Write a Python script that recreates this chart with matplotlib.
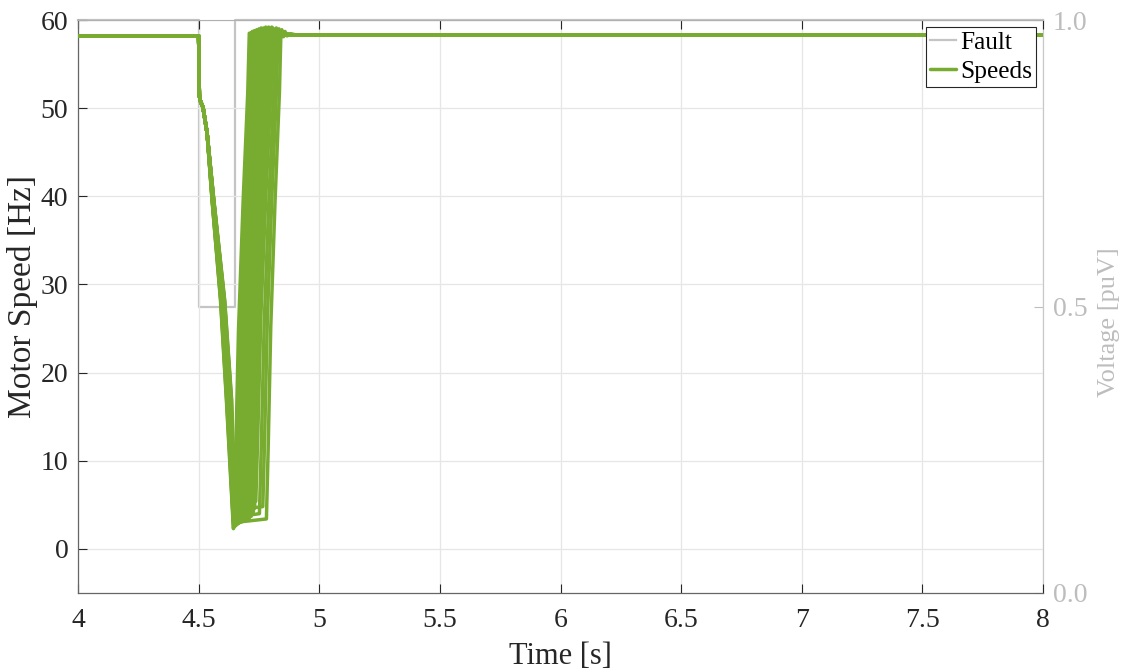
import numpy as np
import matplotlib
matplotlib.use("Agg")
import matplotlib.pyplot as plt

plt.rcParams['font.family'] = ['Liberation Serif', 'DejaVu Serif']

# ---------------- data ----------------
# Fault voltage profile [puV]
fault_t = [4.0, 4.5, 4.5, 4.65, 4.65, 8.0]
fault_v = [1.0, 1.0, 0.5, 0.5, 1.0, 1.0]

# Common speed trajectory before/into the fault [s], [Hz]
pre_t = [4.0, 4.500, 4.503, 4.506, 4.518, 4.535]
pre_v = [58.2, 58.2, 51.5, 50.9, 50.1, 47.2]

# Lower part of the deceleration (times shifted per motor)
desc_t = [4.560, 4.601, 4.628, 4.648]
desc_v = [39.6, 28.2, 16.9]          # last point is the per-motor minimum
desc_w = [0.35, 0.8, 1.0, 0.3]       # how much of the per-motor shift applies

# Per-motor values
desc_shift = [-0.013, -0.010, -0.007, -0.004, -0.001, 0.002, 0.005, 0.008,
              -0.012, -0.006, 0.000, 0.004, 0.007, -0.009, -0.003, 0.001,
              0.006, -0.011, -0.005, 0.003, 0.009, -0.008, -0.002, 0.004,
              -0.001, 0.006]
v_low = [2.3, 2.4, 2.5, 2.6, 2.5, 2.7, 2.6, 2.8, 2.7, 2.9, 3.0, 2.8, 3.1,
         3.0, 3.2, 3.4, 3.1, 3.5, 3.3, 3.6, 3.8, 4.2, 5.0, 3.6, 4.4, 3.0]
t_rise = [4.646, 4.650, 4.654, 4.658, 4.662, 4.666, 4.670, 4.674, 4.678,
          4.682, 4.686, 4.690, 4.694, 4.698, 4.702, 4.706, 4.710, 4.714,
          4.718, 4.722, 4.727, 4.732, 4.737, 4.752, 4.766, 4.781]
rise_dur = [0.064, 0.066, 0.065, 0.067, 0.066, 0.068, 0.067, 0.069, 0.068,
            0.070, 0.069, 0.070, 0.071, 0.070, 0.072, 0.071, 0.073, 0.072,
            0.074, 0.073, 0.072, 0.071, 0.070, 0.066, 0.063, 0.060]
os_peak = [58.5, 58.6, 58.7, 58.6, 58.8, 58.7, 58.9, 58.8, 59.0, 58.9,
           59.1, 59.0, 59.1, 59.0, 59.2, 59.1, 59.0, 59.2, 59.1, 59.0,
           59.2, 59.1, 59.0, 59.1, 59.0, 58.9]

# Re-acceleration shape (fraction of duration, fraction of speed gain)
rise_ft = [0.0, 0.12, 0.30, 0.60, 0.90, 1.0]
rise_fv = [0.0, 0.15, 0.40, 0.66, 0.88, 1.0]
v_top = 58.5

# Overshoot / settling after recovery (first value replaced by os_peak)
os_dt = [0.004, 0.010, 0.017, 0.026, 0.040, 0.065]
os_v = [59.0, 58.1, 58.7, 58.2, 58.45, 58.3]
end_t, end_v = 8.0, 58.3

# ---------------- figure ----------------
W, H = 1127, 669
fig = plt.figure(figsize=(W / 100, H / 100), dpi=100)
ax = fig.add_axes([78 / W, 76 / H, 965 / W, 573 / H])
ax2 = ax.twinx()

green = '#77AC30'
grey = '#C4C4C4'

# Fault on the right axis
fl, = ax2.plot(fault_t, fault_v, color=grey, lw=1.6, clip_on=False, zorder=2)

# Speed curves on the left axis
for s, vl, tr, d, pk in zip(desc_shift, v_low, t_rise, rise_dur, os_peak):
    t = list(pre_t)
    v = list(pre_v)
    for tt, vv, w in zip(desc_t[:-1], desc_v, desc_w[:-1]):
        t.append(tt + w * s)
        v.append(vv)
    tb = desc_t[-1] + desc_w[-1] * s
    t.append(min(tb, tr))
    v.append(vl)
    for ft, fv in zip(rise_ft, rise_fv):
        tt = tr + ft * d
        if ft == 0.0:
            if tt <= t[-1]:
                continue
            t.append(tt)
            v.append(vl + 0.4)
            continue
        t.append(tt)
        v.append(vl + fv * (v_top - vl))
    top = tr + d
    for k, (dt, vv) in enumerate(zip(os_dt, os_v)):
        t.append(top + dt)
        v.append(pk if k == 0 else vv)
    t.append(end_t)
    v.append(end_v)
    sl, = ax.plot(t, v, color=green, lw=2.5, solid_joinstyle='round',
                  solid_capstyle='round', zorder=3)

ax.set_zorder(ax2.get_zorder() + 1)
ax.patch.set_visible(False)

# Axes limits and ticks
ax.set_xlim(4, 8)
ax.set_ylim(-5, 60)
ax2.set_ylim(0, 1)
ax.set_xticks([4, 4.5, 5, 5.5, 6, 6.5, 7, 7.5, 8])
ax.set_xticklabels(['4', '4.5', '5', '5.5', '6', '6.5', '7', '7.5', '8'])
ax.set_yticks([0, 10, 20, 30, 40, 50, 60])
ax2.set_yticks([0, 0.5, 1.0])
ax2.set_yticklabels(['0.0', '0.5', '1.0'])

ax.grid(True, color='#E6E6E6', lw=0.9)
ax.set_axisbelow(True)

ax.tick_params(axis='both', direction='in', length=6.5, width=0.8,
               labelsize=20, colors='#262626', pad=7, top=True)
ax.tick_params(axis='x', pad=11)
ax.tick_params(axis='y', right=False)
ax2.tick_params(axis='y', direction='in', length=6.5, width=0.8,
                labelsize=20, colors='#BDBDBD', pad=7)

for sp in ['left', 'bottom']:
    ax.spines[sp].set_color('#666666')
    ax.spines[sp].set_linewidth(0.9)
ax.spines['top'].set_color('#B0B0B0')
ax.spines['right'].set_visible(False)
for sp in ['left', 'bottom', 'top']:
    ax2.spines[sp].set_visible(False)
ax2.spines['right'].set_color('#C8C8C8')
ax2.spines['right'].set_linewidth(0.9)

ax.set_xlabel('Time [s]', fontsize=22, color='#262626', labelpad=6)
ax.set_ylabel('Motor Speed [Hz]', fontsize=24, color='#262626')
ax.yaxis.set_label_coords(-0.041, 0.518)
ax2.set_ylabel('Voltage [puV]', fontsize=19, color='#BDBDBD')
ax2.yaxis.set_label_coords(1.057, 0.473)

leg = ax.legend([fl, sl], ['Fault', 'Speeds'], loc='upper right',
                bbox_to_anchor=(1.0 - 7 / 965, 1.0 - 7 / 573),
                fontsize=18.3, frameon=True, fancybox=False, framealpha=1,
                edgecolor='#262626', handlelength=1.05, handletextpad=0.15,
                borderpad=0.15, labelspacing=0.25, borderaxespad=0.0)
leg.get_frame().set_linewidth(0.8)

fig.savefig('out.png', dpi=100)
